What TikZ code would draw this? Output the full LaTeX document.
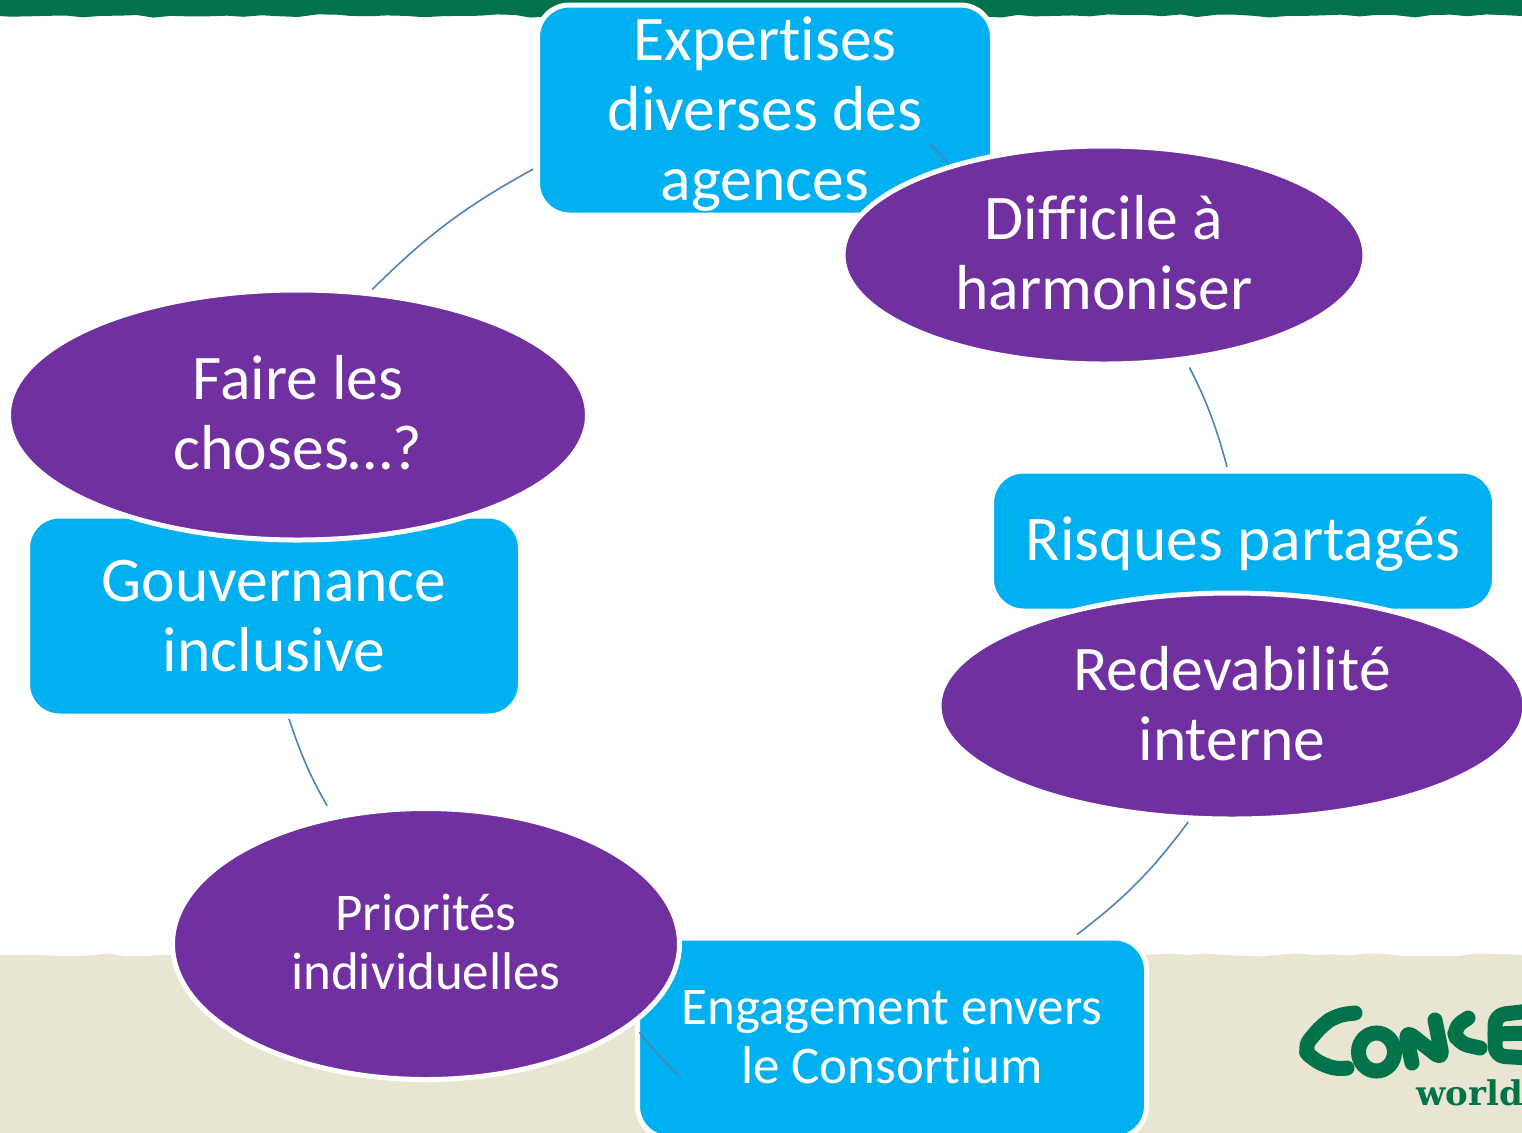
\documentclass[tikz,border=0pt]{standalone}
\usepackage{fontspec}
\setmainfont{Carlito}[RawFeature=-liga]
\newfontfamily\logofont{DejaVu Serif}
\usetikzlibrary{shapes.geometric,decorations.pathmorphing}
\pgfdeclarelayer{ovals}
\pgfsetlayers{main,ovals}
\definecolor{cgreen}{HTML}{00734A}
\definecolor{ctan}{HTML}{E8E5D3}
\definecolor{cblue}{HTML}{00B0F0}
\definecolor{cpurple}{HTML}{7030A0}
\definecolor{cline}{HTML}{4F81BD}
\tikzset{
  shapebase/.style={draw=white,line width=2.5pt,inner sep=0pt,outer sep=0pt},
  bigtext/.style={text=white,align=center,inner sep=0pt,font=\fontsize{31.8}{35}\selectfont},
  smalltext/.style={text=white,align=center,inner sep=0pt,font=\fontsize{26.5}{29.5}\selectfont},
  bluebox/.style={shapebase,fill=cblue,rectangle,rounded corners=16pt},
  oval/.style={shapebase,fill=cpurple,ellipse},
  conn/.style={draw=cline,line width=0.8pt},
  torn/.style={decorate,decoration={random steps,segment length=9pt,amplitude=0.8pt}},
  logostroke/.style={draw=cgreen,line width=7.5pt,line cap=round,line join=round,rounded corners=5pt}
}
\begin{document}
\begin{tikzpicture}[x=0.5pt,y=-0.5pt]
\useasboundingbox (0,0) rectangle (1522,1132);
\clip (0,0) rectangle (1522,1132);
\pgfmathsetseed{17}
% banners
\fill[cgreen] (0,0) -- (1522,0) -- (1522,16) decorate[torn]{-- (0,16)} -- cycle;
\fill[ctan] (0,1140) -- (0,955) decorate[torn]{-- (1522,955)} -- (1522,1140) -- cycle;
% logo
\draw[logostroke] (1355,1013) -- (1337,1015) -- (1322,1025) -- (1303,1048) -- (1313,1060) -- (1337,1070) -- (1347,1068);
\draw[draw=cgreen,line width=7.5pt] (1376.5,1052) ellipse [x radius=18,y radius=19];
\draw[logostroke] (1412,1063) -- (1405,1030) -- (1443,1060) -- (1435,1020);
\draw[logostroke] (1468,1018) -- (1453,1028) -- (1458,1043) -- (1480,1048);
\draw[logostroke] (1530,1011) -- (1495,1015) -- (1495,1056) -- (1530,1058);
\draw[logostroke] (1495,1034) -- (1530,1033);
\node[anchor=base west,inner sep=0pt,text=cgreen,font=\logofont\bfseries\fontsize{17}{20}\selectfont] (wrd) at (1416,1105) {world};
% rounded boxes
\node[bluebox,minimum width=227.5pt,minimum height=105pt,label={[bigtext,name=expt,yshift=-2.2pt]center:Expertises\\diverses des\\agences}] (exp) at (765,110) {};
\node[bluebox,minimum width=251.5pt,minimum height=70pt,label={[bigtext,name=rikt,yshift=-1.5pt]center:Risques partagés}] (rik) at (1243,541) {};
\node[bluebox,minimum width=246.5pt,minimum height=100pt,label={[bigtext,name=gout]center:Gouvernance\\inclusive}] (gou) at (274,616) {};
\node[bluebox,minimum width=254.5pt,minimum height=100pt,label={[smalltext,name=engt,yshift=0.5pt]center:Engagement envers\\le Consortium}] (eng) at (892,1038) {};
% ovals
\begin{pgfonlayer}{ovals}
\node[oval,minimum width=261pt,minimum height=109pt,label={[bigtext,name=dift,yshift=1pt]center:Difficile à\\harmoniser}] (dif) at (1104,255) {};
\node[oval,minimum width=289.5pt,minimum height=125pt,label={[bigtext,name=fait,yshift=1pt]center:Faire les\\choses…?}] (fai) at (298,415) {};
\node[oval,minimum width=293pt,minimum height=113pt,label={[bigtext,name=redt,yshift=1pt]center:Redevabilité\\interne}] (red) at (1232,706) {};
\node[oval,minimum width=253.5pt,minimum height=135.5pt,label={[smalltext,name=prit,yshift=1pt]center:Priorités\\individuelles}] (pri) at (426,944) {};
\end{pgfonlayer}
% connectors
\coordinate (expin) at (930,145);
\coordinate (engin) at (678,1075);
\draw[conn,shorten <=2.5pt,shorten >=3pt] (exp.194.5) to[bend right=8] (fai.60.5);
\draw[conn] (expin) to[bend left=4] (dif.150);
\draw[conn,shorten <=5pt,shorten >=2pt] (dif.-52) to[bend left=6] (rik.102);
\draw[conn,shorten <=2.5pt,shorten >=3pt] (red.250.5) to[bend left=8] (eng.29.4);
\draw[conn,shorten <=6pt] (pri.-21.4) to[bend right=3] (engin);
\draw[conn,shorten <=1.5pt,shorten >=7pt] (gou.-82) to[bend right=6] (pri.126);
\end{tikzpicture}
\end{document}
